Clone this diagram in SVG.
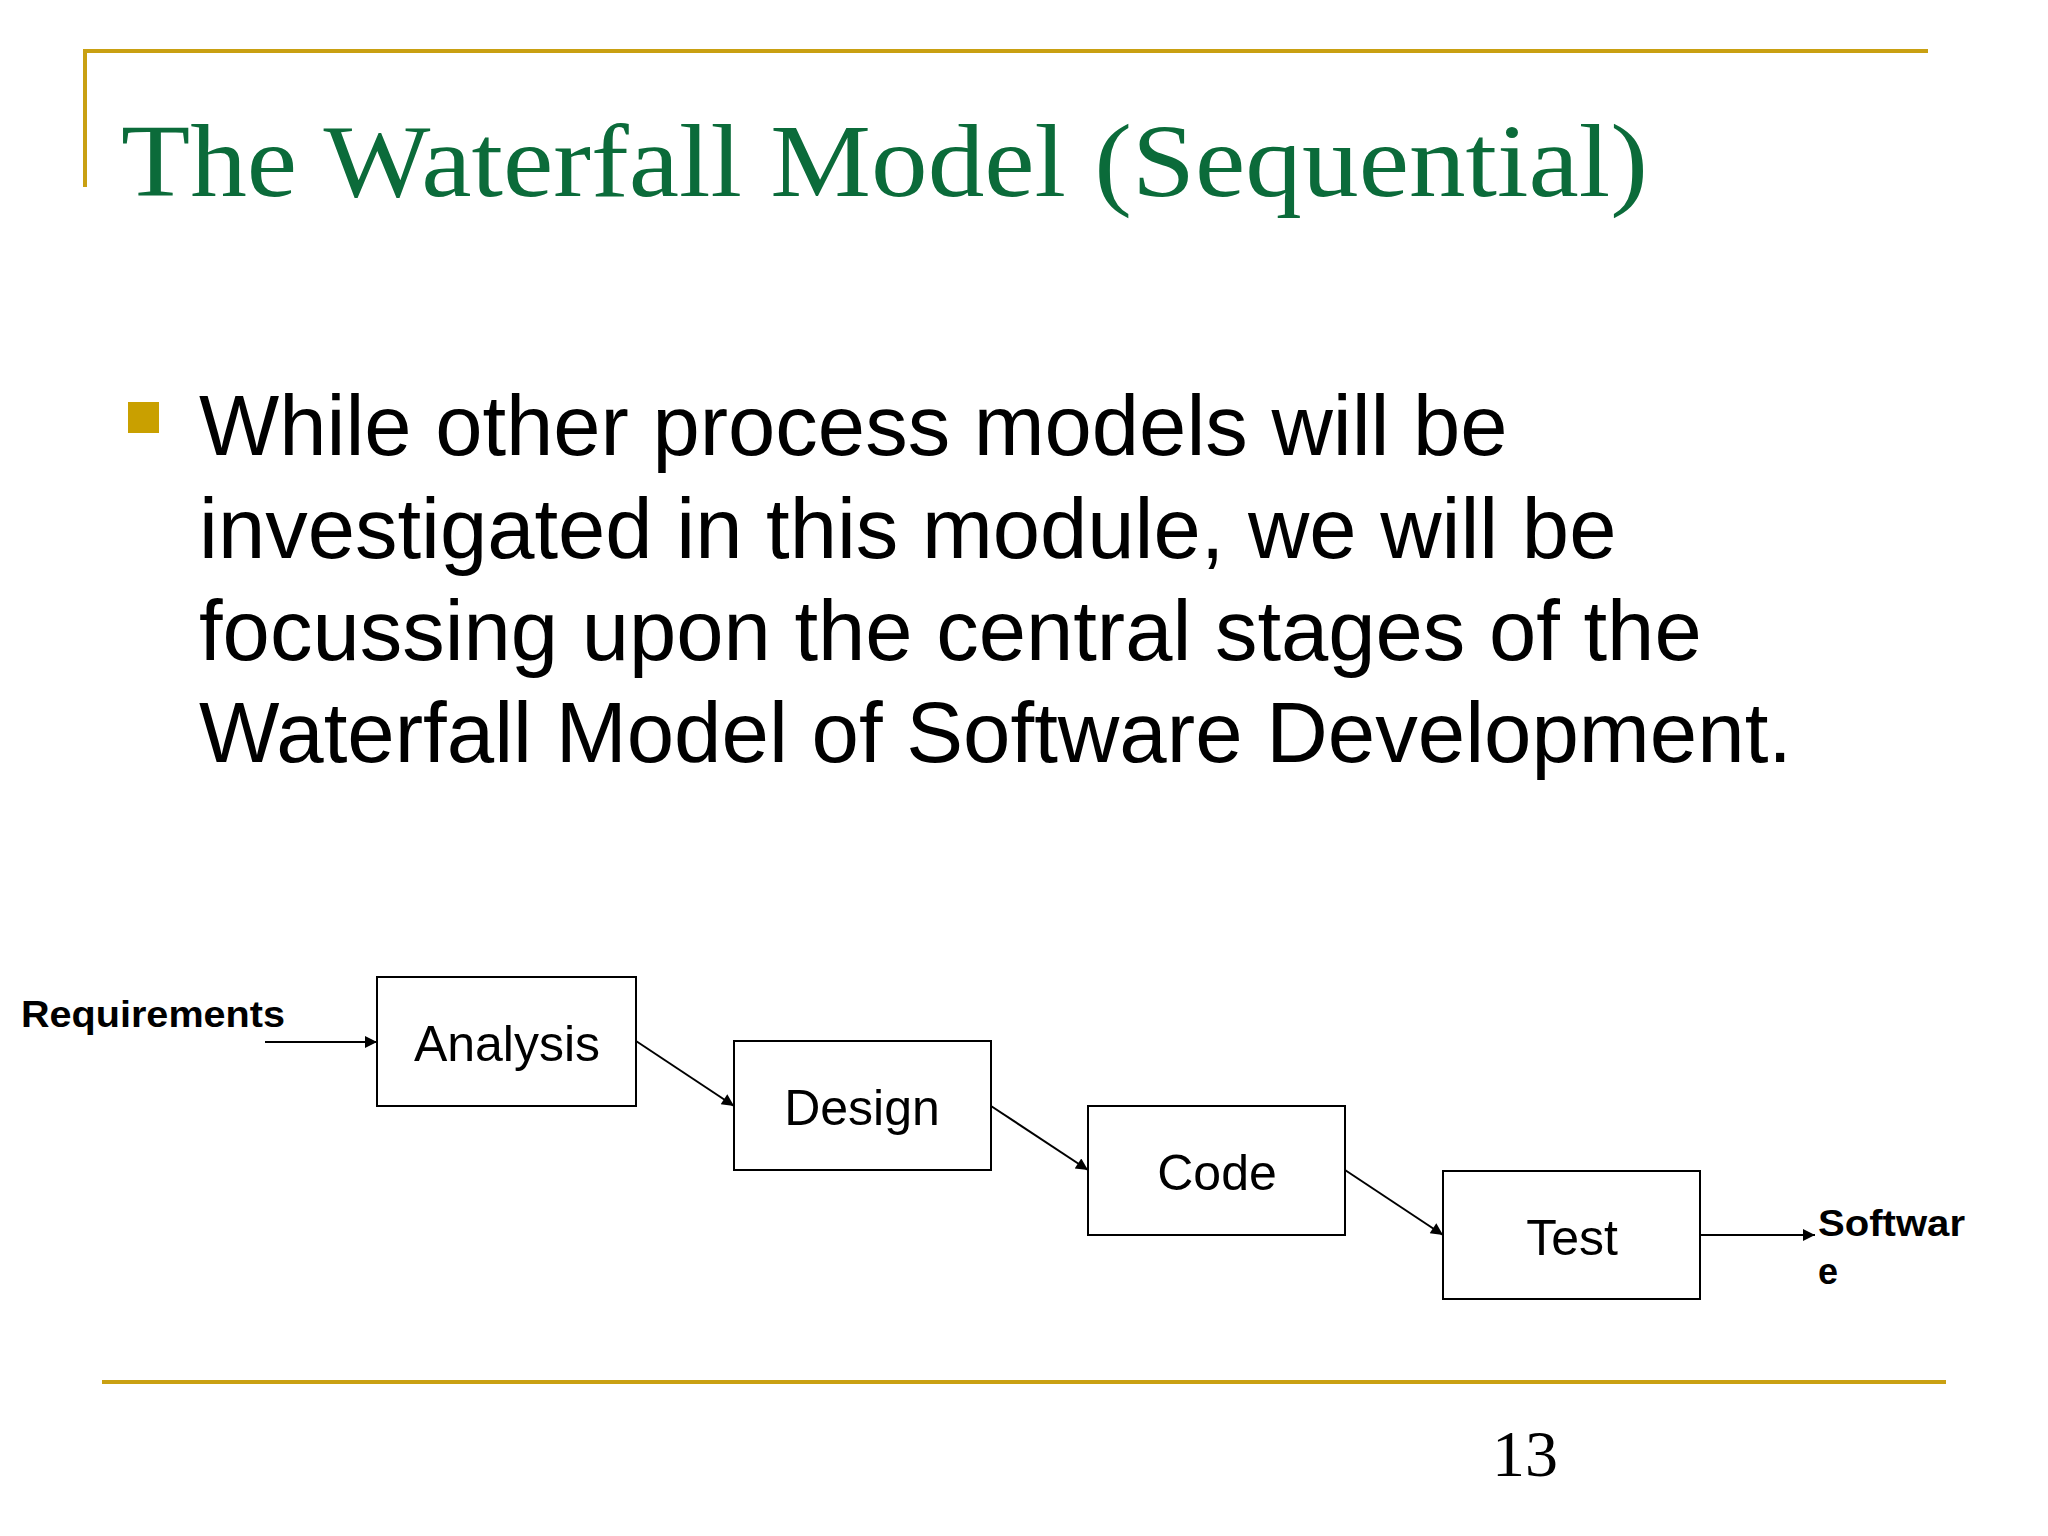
<svg xmlns="http://www.w3.org/2000/svg" width="2048" height="1536" viewBox="0 0 2048 1536">
<defs>
<style>
.gold{stroke:#c9a012;stroke-width:4;fill:none}
.box rect{fill:#fff;stroke:#000;stroke-width:2}
.box text{font-family:"Liberation Sans",Arial,sans-serif;font-size:50px;text-anchor:middle;fill:#000}
.lbl{font-family:"Liberation Sans",Arial,sans-serif;font-size:36px;font-weight:bold;fill:#000}
.con line{stroke:#000;stroke-width:2;marker-end:url(#ah)}
.body{font-family:"Liberation Sans",Arial,sans-serif;font-size:85px;fill:#000}
</style>
<marker id="ah" viewBox="0 0 10 10" refX="10" refY="5" markerWidth="14" markerHeight="12" markerUnits="userSpaceOnUse" orient="auto"><path d="M0,0L10,5L0,10z" fill="#000"/></marker>
</defs>
<rect width="2048" height="1536" fill="#fff"/>
<path class="gold" d="M85,187V51H1928"/>
<line class="gold" x1="102" y1="1382" x2="1946" y2="1382" stroke-width="5"/>
<text x="121" y="196" font-family="'Liberation Serif','Times New Roman',serif" font-size="104" fill="#0b6b3a" textLength="1527" lengthAdjust="spacingAndGlyphs">The Waterfall Model (Sequential)</text>
<rect x="128" y="402" width="31" height="31" fill="#c9a000"/>
<text class="body" x="199" y="455">While other process models will be</text>
<text class="body" x="199" y="558">investigated in this module, we will be</text>
<text class="body" x="199" y="660">focussing upon the central stages of the</text>
<text class="body" x="199" y="762" textLength="1593" lengthAdjust="spacingAndGlyphs">Waterfall Model of Software Development.</text>
<text class="lbl" x="21" y="1027" textLength="264" lengthAdjust="spacingAndGlyphs">Requirements</text>
<g id="analysis" class="box"><rect x="377" y="977" width="259" height="129"/><text x="507" y="1061">Analysis</text></g>
<g id="design" class="box"><rect x="734" y="1041" width="257" height="129"/><text x="862" y="1125">Design</text></g>
<g id="code" class="box"><rect x="1088" y="1106" width="257" height="129"/><text x="1217" y="1190">Code</text></g>
<g id="test" class="box"><rect x="1443" y="1171" width="257" height="128"/><text x="1572" y="1255">Test</text></g>
<text class="lbl" x="1818" y="1236" textLength="147" lengthAdjust="spacingAndGlyphs">Softwar</text>
<text class="lbl" x="1818" y="1284">e</text>
<g id="connectors" class="con">
<line x1="265" y1="1042" x2="377" y2="1042"/>
<line x1="636" y1="1041" x2="734" y2="1106"/>
<line x1="991" y1="1106" x2="1088" y2="1170"/>
<line x1="1345" y1="1170" x2="1443" y2="1235"/>
<line x1="1700" y1="1235" x2="1815" y2="1235"/>
</g>
<text x="1492" y="1476" font-family="'Liberation Serif','Times New Roman',serif" font-size="66" fill="#000">13</text>
</svg>
